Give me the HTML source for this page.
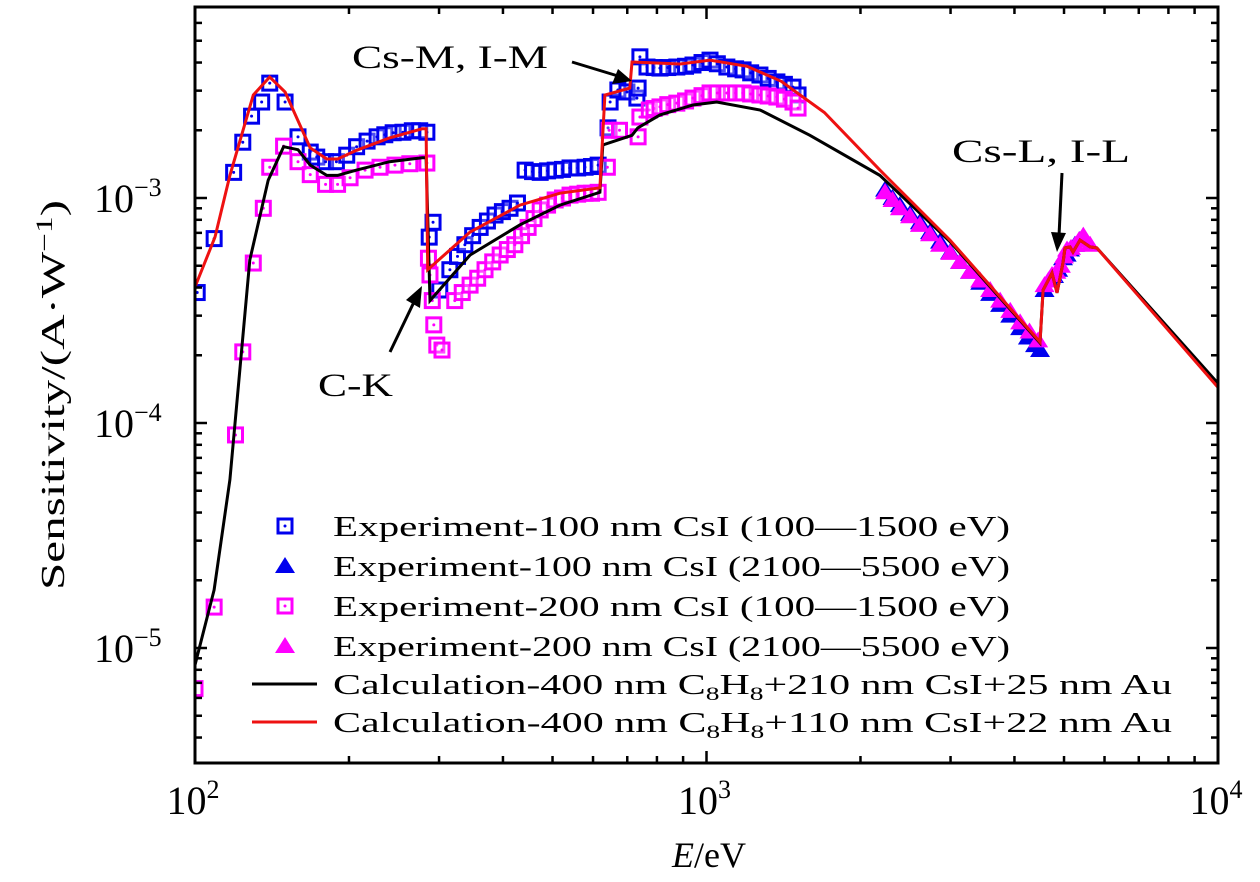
<!DOCTYPE html>
<html><head><meta charset="utf-8"><style>
html,body{margin:0;padding:0;background:#fff;}
svg{display:block;font-family:"Liberation Serif",serif;}
</style></head><body>
<svg id="chart" width="1260" height="882" viewBox="0 0 1260 882" xmlns="http://www.w3.org/2000/svg">
<defs><clipPath id="clip"><rect x="195" y="7" width="1023" height="756"/></clipPath></defs>
<g id="plot" clip-path="url(#clip)"></g>
<rect x="195" y="7" width="1023" height="756" fill="none" stroke="#000" stroke-width="3"/>
<g id="axes"></g>
<text x="672" y="867" font-size="36" textLength="74" lengthAdjust="spacingAndGlyphs"><tspan font-style="italic">E</tspan>/eV</text>
<text transform="translate(64,395) rotate(-90)" font-size="34" text-anchor="middle" textLength="390" lengthAdjust="spacingAndGlyphs">Sensitivity/(A·W<tspan baseline-shift="super" font-size="23">−1</tspan>)</text>
<g>
<text x="352" y="68" font-size="33" textLength="196" lengthAdjust="spacingAndGlyphs">Cs-M, I-M</text>
<line x1="572" y1="62" x2="618" y2="76" stroke="#000" stroke-width="3"/>
<polygon points="632,81 612,84 618,69" fill="#000"/></g>
<g>
<text x="318" y="396" font-size="33" textLength="75" lengthAdjust="spacingAndGlyphs">C-K</text>
<line x1="390" y1="352" x2="414" y2="302" stroke="#000" stroke-width="3"/>
<polygon points="422,286 420,308 406,300" fill="#000"/></g>
<g>
<text x="952" y="162" font-size="33" textLength="178" lengthAdjust="spacingAndGlyphs">Cs-L, I-L</text>
<line x1="1062" y1="173" x2="1059" y2="236" stroke="#000" stroke-width="3"/>
<polygon points="1057,252 1051,232 1066,233" fill="#000"/></g>
<g id="legend"></g>
</svg>
<script>
const blueSqE=[101,109,119,124,129,135,140,150,159,168,173,180,189,198,207,217,227,235,244,255,266,275,284,287,292,301,315,326,337,349,361,373,386,399,413,427,442,457,473,489,506,523,541,560,579,596,614,642,648,671,699,731,735,741,765,790,811,840,875,910,941,980,1016,1050,1096,1140,1179,1220,1272,1320,1373,1420,1476,1510];
const blueSqS=[3.8e-4,6.6e-4,1.30e-3,1.77e-3,2.31e-3,2.67e-3,3.24e-3,2.67e-3,1.87e-3,1.60e-3,1.52e-3,1.45e-3,1.45e-3,1.55e-3,1.69e-3,1.79e-3,1.87e-3,1.91e-3,1.95e-3,1.96e-3,1.99e-3,1.99e-3,1.96e-3,6.7e-4,7.8e-4,3.9e-4,4.8e-4,5.5e-4,6.2e-4,6.8e-4,7.4e-4,7.9e-4,8.4e-4,8.7e-4,9.0e-4,9.5e-4,1.33e-3,1.31e-3,1.30e-3,1.32e-3,1.33e-3,1.34e-3,1.36e-3,1.36e-3,1.37e-3,1.38e-3,1.40e-3,2.05e-3,2.67e-3,3.02e-3,2.96e-3,2.78e-3,3.08e-3,4.24e-3,3.82e-3,3.8e-3,3.78e-3,3.8e-3,3.82e-3,3.85e-3,3.90e-3,4.0e-3,4.10e-3,3.95e-3,3.82e-3,3.75e-3,3.71e-3,3.6e-3,3.52e-3,3.4e-3,3.28e-3,3.2e-3,3.11e-3,2.87e-3];
const magSqE=[100,109,120,124,130,136,140,149,159,168,180,190,201,215,230,246,263,284,286,288,291,293,297,304,322,333,345,357,369,382,395,408,422,435,448,460,473,489,506,523,541,560,579,596,614,640,645,676,735,741,773,790,811,840,875,910,941,980,1016,1050,1096,1140,1179,1220,1272,1320,1373,1420,1476,1510];
const magSqS=[6.6e-6,1.52e-5,8.85e-5,2.07e-4,5.14e-4,9.0e-4,1.37e-3,1.70e-3,1.45e-3,1.27e-3,1.15e-3,1.15e-3,1.23e-3,1.33e-3,1.37e-3,1.40e-3,1.42e-3,1.43e-3,5.4e-4,4.55e-4,3.5e-4,2.73e-4,2.22e-4,2.11e-4,3.5e-4,3.8e-4,4.1e-4,4.4e-4,4.8e-4,5.2e-4,5.58e-4,5.9e-4,6.2e-4,6.8e-4,7.4e-4,8.1e-4,8.85e-4,9.3e-4,9.8e-4,1.0e-3,1.03e-3,1.04e-3,1.05e-3,1.05e-3,1.06e-3,1.37e-3,2.0e-3,2.0e-3,1.87e-3,2.29e-3,2.46e-3,2.5e-3,2.54e-3,2.6e-3,2.64e-3,2.7e-3,2.78e-3,2.85e-3,2.93e-3,2.93e-3,2.93e-3,2.93e-3,2.93e-3,2.9e-3,2.87e-3,2.84e-3,2.81e-3,2.75e-3,2.67e-3,2.51e-3];
const blueTriE=[2234,2310,2388,2500,2613,2735,2861,2995,3131,3275,3428,3585,3750,3925,4103,4250,4388,4488,4580,4689,4780,4870,4977,5060,5137,5250,5372];
const blueTriS=[1.09e-3,1.0e-3,9.3e-4,8.5e-4,7.8e-4,7.05e-4,6.4e-4,5.75e-4,5.2e-4,4.7e-4,4.2e-4,3.75e-4,3.35e-4,3.0e-4,2.64e-4,2.4e-4,2.22e-4,2.11e-4,3.9e-4,4.3e-4,4.5e-4,4.8e-4,5.4e-4,5.6e-4,5.9e-4,6.2e-4,6.5e-4];
const magTriE=[2234,2310,2388,2500,2613,2735,2861,2995,3131,3275,3428,3585,3750,3925,4103,4280,4450,4580,4660,4737,4830,4930,5000,5068,5160,5260,5350,5453,5623];
const magTriS=[1.06e-3,9.8e-4,9.0e-4,8.3e-4,7.6e-4,6.9e-4,6.2e-4,5.7e-4,5.2e-4,4.7e-4,4.3e-4,3.9e-4,3.5e-4,3.15e-4,2.8e-4,2.55e-4,2.33e-4,4.1e-4,4.3e-4,4.55e-4,4.7e-4,5.0e-4,5.5e-4,5.9e-4,6.0e-4,6.2e-4,6.5e-4,6.8e-4,6.2e-4];
const blackE=[100,109,117,128,139,149,159,168,181,190,207,240,278,283,288,345,432,517,619,627,715,734,811,941,1047,1273,1593,2183,2993,4488,4550,4737,4844,4977,5021,5137,5206,5372,5623,5795,10000];
const blackS=[8.4e-6,1.81e-5,5.6e-5,5.3e-4,1.2e-3,1.69e-3,1.64e-3,1.4e-3,1.26e-3,1.26e-3,1.33e-3,1.45e-3,1.51e-3,1.51e-3,3.5e-4,5.58e-4,7.6e-4,9.3e-4,1.06e-3,1.72e-3,1.9e-3,2.05e-3,2.34e-3,2.59e-3,2.67e-3,2.46e-3,1.9e-3,1.26e-3,6.4e-4,2.27e-4,3.9e-4,4.64e-4,3.79e-4,5.15e-4,6.0e-4,6.06e-4,5.75e-4,6.5e-4,6.06e-4,6.0e-4,1.5e-4];
const redE=[100,109.4,117,130,140,150,168,181,190,207,240,278,283,285,345,432,517,619,633,708,715,888,1016,1200,1400,1700,2183,2993,4488,4550,4737,4844,4977,5021,5137,5206,5372,5623,5795,10000];
const redS=[4.02e-4,6.7e-4,1.26e-3,2.87e-3,3.45e-3,2.96e-3,1.67e-3,1.49e-3,1.49e-3,1.63e-3,1.85e-3,2.03e-3,2.03e-3,4.8e-4,7.06e-4,9.3e-4,1.05e-3,1.11e-3,2.87e-3,3.08e-3,4.02e-3,3.94e-3,4.1e-3,3.85e-3,3.3e-3,2.4e-3,1.33e-3,6.5e-4,2.29e-4,3.9e-4,4.64e-4,3.79e-4,5.15e-4,6.0e-4,6.06e-4,5.75e-4,6.5e-4,6.06e-4,6.0e-4,1.44e-4];
const xTickExp=[2,3,4];
const yTickExp=[-5,-4,-3];
const legendLabels=["Experiment-100 nm CsI (100—1500 eV)","Experiment-100 nm CsI (2100—5500 eV)","Experiment-200 nm CsI (100—1500 eV)","Experiment-200 nm CsI (2100—5500 eV)"];

const NS="http://www.w3.org/2000/svg";
const X0=195,X1=1218,Y3=198,DEC=225;
const xs=e=>X0+(X1-X0)/2*Math.log10(e/100);
const ys=s=>Y3-DEC*(Math.log10(s)+3);
function mk(tag,attrs,parent){const el=document.createElementNS(NS,tag);for(const k in attrs)el.setAttribute(k,attrs[k]);parent.appendChild(el);return el;}
const plot=document.getElementById('plot'),axes=document.getElementById('axes'),legend=document.getElementById('legend');
const BLUE="#0000ee",MAG="#ff00ff";
function square(x,y,c,p,name){const g=mk('g',{},p);


mk('rect',{x:x-7,y:y-7,width:14,height:14,fill:'#fff','fill-opacity':0.3,stroke:c,'stroke-width':3},g);
mk('circle',{cx:x,cy:y,r:1.5,fill:c},g);}
function tri(x,y,c,p,name){const el=mk('polygon',{points:`${x},${y-9} ${x+10},${y+7} ${x-10},${y+7}`,fill:c},p);

}
function line(E,S,c,name){const d=E.map((e,i)=>(i?'L':'M')+xs(e).toFixed(1)+','+ys(S[i]).toFixed(1)).join('');
const el=mk('path',{d,fill:'none',stroke:c,'stroke-width':3,'stroke-linejoin':'miter'},plot);

}
blueSqE.forEach((e,i)=>square(xs(e),ys(blueSqS[i]),BLUE,plot,'point-100nm-low'));
magSqE.forEach((e,i)=>square(xs(e),ys(magSqS[i]),MAG,plot,'point-200nm-low'));
blueTriE.forEach((e,i)=>tri(xs(e),ys(blueTriS[i]),BLUE,plot,'point-100nm-high'));
magTriE.forEach((e,i)=>tri(xs(e),ys(magTriS[i]),MAG,plot,'point-200nm-high'));
line(blackE,blackS,'#000','calc-line-210nm');
line(redE,redS,'#ee1111','calc-line-110nm');
xTickExp.forEach(p=>{const x=xs(Math.pow(10,p));
const t=mk('text',{x:x-2,y:814,'font-size':40,'text-anchor':'middle'},axes);


t.textContent='10';const s=mk('tspan',{dy:-16,'font-size':26},t);s.textContent=p;
if(p<4){for(let m=1;m<10;m++){const xx=xs(m*Math.pow(10,p));const L=m==1?12:7;
mk('line',{x1:xx,y1:763,x2:xx,y2:763-L,stroke:'#000','stroke-width':2.5},axes);
mk('line',{x1:xx,y1:7,x2:xx,y2:7+L,stroke:'#000','stroke-width':2.5},axes);}}});
yTickExp.forEach(p=>{const y=ys(Math.pow(10,p));
const t=mk('text',{x:94,y:y+14,'font-size':40},axes);


t.textContent='10';const s=mk('tspan',{dy:-16,'font-size':26},t);s.textContent='−'+(-p);});
for(let p=-6;p<=-2;p++)for(let m=1;m<10;m++){const y=ys(m*Math.pow(10,p));if(y<8||y>762)continue;const L=m==1?12:7;
mk('line',{x1:195,y1:y,x2:195+L,y2:y,stroke:'#000','stroke-width':2.5},axes);
mk('line',{x1:1218,y1:y,x2:1218-L,y2:y,stroke:'#000','stroke-width':2.5},axes);}
const rowY=[526,566,606,646,684,722];
const legendLen=[677,677,677,677];
legendLabels.forEach((lab,i)=>{const y=rowY[i];
if(i%2==0)square(285,y,i<2?BLUE:MAG,legend,'legend-marker');else tri(285,y,i<2?BLUE:MAG,legend,'legend-marker');
const t=mk('text',{x:333,y:y+10,'font-size':29,textLength:legendLen[i],lengthAdjust:'spacingAndGlyphs'},legend);


t.textContent=lab;});
[['#000','210','25'],['#ee1111','110','22']].forEach((c,j)=>{const y=rowY[4+j];
const l=mk('line',{x1:252,y1:y,x2:317,y2:y,stroke:c[0],'stroke-width':3},legend);


const t=mk('text',{x:333,y:y+10,'font-size':29,textLength:839,lengthAdjust:'spacingAndGlyphs'},legend);


t.innerHTML='Calculation-400 nm C<tspan font-size="19" dy="6">8</tspan><tspan dy="-6">H</tspan><tspan font-size="19" dy="6">8</tspan><tspan dy="-6">+'+c[1]+' nm CsI+'+c[2]+' nm Au</tspan>';});
</script>
</body></html>
